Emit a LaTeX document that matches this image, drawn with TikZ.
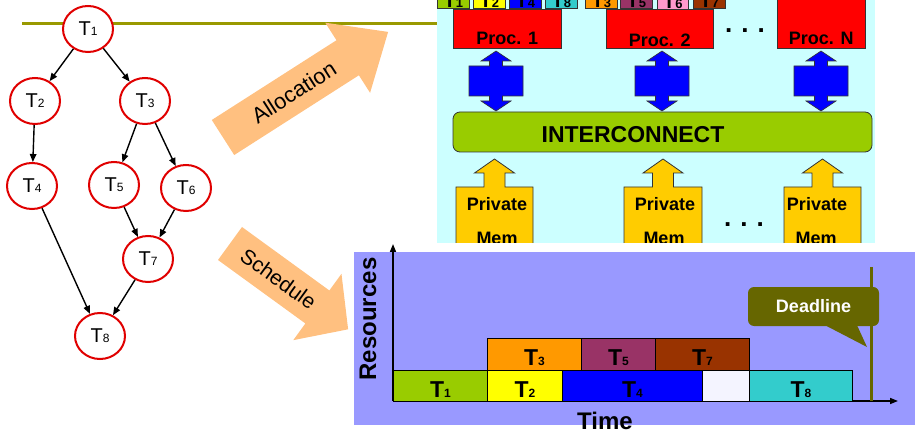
\documentclass[tikz,border=0pt]{standalone}
\usepackage{fontspec}
\setmainfont{Liberation Sans}
\usetikzlibrary{arrows.meta,shapes.geometric}

\definecolor{rulecol}{HTML}{999900}
\definecolor{nodered}{HTML}{E00000}
\definecolor{peach}{HTML}{FFC080}
\definecolor{panelcyan}{HTML}{CCFFFF}
\definecolor{panelblue}{HTML}{9999FF}
\definecolor{busgreen}{HTML}{99CC00}
\definecolor{memyellow}{HTML}{FFCC00}
\definecolor{procred}{HTML}{FF0000}
\definecolor{linkblue}{HTML}{0000FF}
\definecolor{deadcol}{HTML}{666600}
\definecolor{idlecol}{HTML}{F4F4FF}
\definecolor{cTa}{HTML}{99CC00}
\definecolor{cTb}{HTML}{FFFF00}
\definecolor{cTc}{HTML}{FF9900}
\definecolor{cTd}{HTML}{0000FF}
\definecolor{cTe}{HTML}{993366}
\definecolor{cTf}{HTML}{FF99CC}
\definecolor{cTg}{HTML}{993300}
\definecolor{cTh}{HTML}{33CCCC}

\newcommand\setfs[1]{\fontsize{#1pt}{#1pt}\selectfont}
% task labels: graph, Gantt bars, processor queues
\newcommand\gT[1]{{\setfs{20}T\setfs{12}#1}}
\newcommand\bT[1]{{\bfseries\setfs{23}T\setfs{12}#1}}
\newcommand\sT[1]{{\bfseries\setfs{20}T\setfs{13}#1}}

\tikzset{
  tnode/.style={ellipse, draw=nodered, line width=2pt, fill=white,
    minimum width=50pt, minimum height=46pt, inner sep=0pt},
  edge/.style={line width=1.4pt, -{Triangle[length=8pt,width=6.5pt]}},
  axis/.style={line width=1.5pt, -{Triangle[length=8pt,width=6pt]}},
  bar/.style={draw=black, line width=0.8pt, inner sep=0pt, anchor=north west,
    minimum height=31.5pt, text height=27.5pt, text depth=4pt},
  minibox/.style={draw=black!80, line width=0.6pt, inner sep=0pt,
    anchor=south west, minimum width=32pt, minimum height=29pt,
    text height=28pt, text depth=1pt},
  procbox/.style={draw=black!80, fill=procred, line width=0.6pt,
    inner sep=0pt, anchor=north west, font=\bfseries\setfs{18}},
  dblarrow/.style={fill=linkblue, draw=black!80, line width=0.6pt},
  memshape/.style={fill=memyellow, draw=black!80, line width=0.8pt},
  memtext/.style={anchor=base, font=\bfseries\setfs{18}},
  dots/.style={anchor=base, font=\bfseries\setfs{26}},
  bigarrow/.style={fill=peach},
}

\begin{document}
\begin{tikzpicture}[x=1pt, y=-1pt]
\clip (0,0) rectangle (915,430);

% background panels
\fill[panelcyan] (437,-5) rectangle (875,243);
\fill[panelblue] (354,252) rectangle (915,425);

% title rule
\draw[rulecol, line width=3pt] (22,23.5) -- (437,23.5);

% ---------------- task graph ----------------
\node[tnode] (t1) at (88,29)  {\gT{1}};
\node[tnode] (t2) at (35,101) {\gT{2}};
\node[tnode] (t3) at (145,101) {\gT{3}};
\node[tnode] (t4) at (32,186) {\gT{4}};
\node[tnode] (t5) at (114,185) {\gT{5}};
\node[tnode] (t6) at (186,188) {\gT{6}};
\node[tnode] (t7) at (148,259) {\gT{7}};
\node[tnode] (t8) at (100,336) {\gT{8}};

\draw[edge] (t1) -- (t2);
\draw[edge] (t1) -- (t3);
\draw[edge] (t2) -- (t4);
\draw[edge] (t3) -- (t5);
\draw[edge] (t3) -- (t6);
\draw[edge] (t5) -- (t7);
\draw[edge] (t6) -- (t7);
\draw[edge] (t4) -- (t8);
\draw[edge] (t7) -- (t8);

% ---------------- big arrows ----------------
\begin{scope}[shift={(223,137.5)}, rotate=32.6]
  \fill[bigarrow] (0,-20.8) -- (148,-20.8) -- (148,-41.6) -- (196,0)
    -- (148,41.6) -- (148,20.8) -- (0,20.8) -- cycle;
  \node[font=\setfs{22}, rotate=32.6] (alloc) at (84,0) {Allocation};
\end{scope}
\begin{scope}[shift={(230,243.5)}, rotate=-36]
  \fill[bigarrow] (0,-20.4) -- (108,-20.4) -- (108,-41) -- (146,0)
    -- (108,41) -- (108,20.4) -- (0,20.4) -- cycle;
  \node[font=\setfs{21}, rotate=-36] (sched) at (60,0) {Schedule};
\end{scope}

% ---------------- platform ----------------
\node[procbox, minimum width=108pt, minimum height=39pt, text height=35pt, text depth=4pt] (p1) at (453,9) {Proc. 1};
\node[procbox, minimum width=107pt, minimum height=39pt, text height=37pt, text depth=2pt] (p2) at (606,9) {Proc. 2};
\node[procbox, minimum width=88pt, minimum height=53pt, text height=49pt, text depth=4pt] (pn) at (777,-5) {Proc. N};
\node[dots] (dotsp) at (745,33) {.\hspace{9pt}.\hspace{9pt}.};

% task queues on the processors
\node[minibox, fill=cTa] (q1) at (437,9) {\sT{1}};
\node[minibox, fill=cTb] (q2) at (473,9) {\sT{2}};
\node[minibox, fill=cTd] (q4) at (509,9) {\sT{4}};
\node[minibox, fill=cTh] (q8) at (545,9) {\sT{8}};
\node[minibox, fill=cTc] (q3) at (585,9) {\sT{3}};
\node[minibox, fill=cTe] (q5) at (620,9) {\sT{5}};
\node[minibox, fill=cTf, minimum width=31pt] (q6) at (657,10) {\sT{6}};
\node[minibox, fill=cTg] (q7) at (693,9) {\sT{7}};

% links processor <-> interconnect
\foreach \c in {496,662,821} {
  \begin{scope}[xshift=\c pt]
    \draw[dblarrow] (0,51) -- (15,61) -- (6.5,61) -- (6.5,66) -- (27,66)
      -- (27,96) -- (6.5,96) -- (6.5,101) -- (15,101) -- (0,111)
      -- (-15,101) -- (-6.5,101) -- (-6.5,96) -- (-27,96) -- (-27,66)
      -- (-6.5,66) -- (-6.5,61) -- (-15,61) -- cycle;
  \end{scope}
}

% interconnect
\node[fill=busgreen, draw=black!80, line width=0.8pt, rounded corners=7pt,
  minimum width=419pt, minimum height=40pt, inner sep=0pt] (bus) at (662.5,132) {};
\node[anchor=base, font=\bfseries\setfs{23}] (bustext) at (633,142.5) {INTERCONNECT};

% private memories
\begin{scope}
  \clip (437,150) rectangle (875,243);
  \foreach \c/\h in {494.5/38.5, 663/39, 822.5/38.5} {
    \draw[memshape] (\c-\h,270) -- (\c-\h,187) -- (\c-10.5,187) -- (\c-10.5,173)
      -- (\c-20,173) -- (\c,159) -- (\c+20,173) -- (\c+10.5,173)
      -- (\c+10.5,187) -- (\c+\h,187) -- (\c+\h,270) -- cycle;
  }
  \node[memtext] (pv1) at (497,211) {Private};
  \node[memtext] (mm1) at (497,245) {Mem};
  \node[memtext] (pv2) at (665,211) {Private};
  \node[memtext] (mm2) at (664,245) {Mem};
  \node[memtext] (pv3) at (817,211) {Private};
  \node[memtext] (mm3) at (816,245) {Mem};
  \node[dots] (dotsm) at (744,227) {.\hspace{9pt}.\hspace{9pt}.};
\end{scope}

% ---------------- schedule ----------------
\coordinate (org) at (393,401);
\coordinate (ytop) at (393,244);
\coordinate (xend) at (898,401);
\draw[axis] (org) -- (ytop);
\draw[axis] (org) -- (xend);

\node[bar, fill=cTa, minimum width=94pt]  (g1) at (393,369.5) {\bT{1}};
\node[bar, fill=cTb, minimum width=75pt]  (g2) at (487,369.5) {\bT{2}};
\node[bar, fill=cTd, minimum width=140pt] (g4) at (562,369.5) {\bT{4}};
\node[bar, fill=idlecol, minimum width=47pt] (gi) at (702,369.5) {};
\node[bar, fill=cTh, minimum width=103pt] (g8) at (749,369.5) {\bT{8}};
\node[bar, fill=cTc, minimum width=94pt]  (g3) at (487,338) {\bT{3}};
\node[bar, fill=cTe, minimum width=74pt]  (g5) at (581,338) {\bT{5}};
\node[bar, fill=cTg, minimum width=94pt]  (g7) at (655,338) {\bT{7}};

\node[rotate=90, anchor=base, font=\bfseries\setfs{24}] (res) at (376,319) {Resources};
\node[anchor=base, font=\bfseries\setfs{24}] (time) at (605,429) {Time};

% deadline marker and callout
\node[fill=deadcol, rounded corners=6pt, minimum width=131pt, minimum height=39pt,
  inner sep=0pt, text height=25pt, text depth=14pt, text=white,
  font=\bfseries\setfs{18}] (dl) at (813.5,306.5) {Deadline};
\coordinate (dtip) at (867,347);
\fill[deadcol] ([xshift=11.5pt,yshift=1pt]dl.south) -- (dtip)
  -- ([xshift=43.5pt,yshift=1pt]dl.south) -- cycle;
\coordinate (dlt) at (871,267);
\coordinate (dlb) at (871,401);
\draw[deadcol, line width=3pt] (dlt) -- (dlb);
\end{tikzpicture}
\end{document}
